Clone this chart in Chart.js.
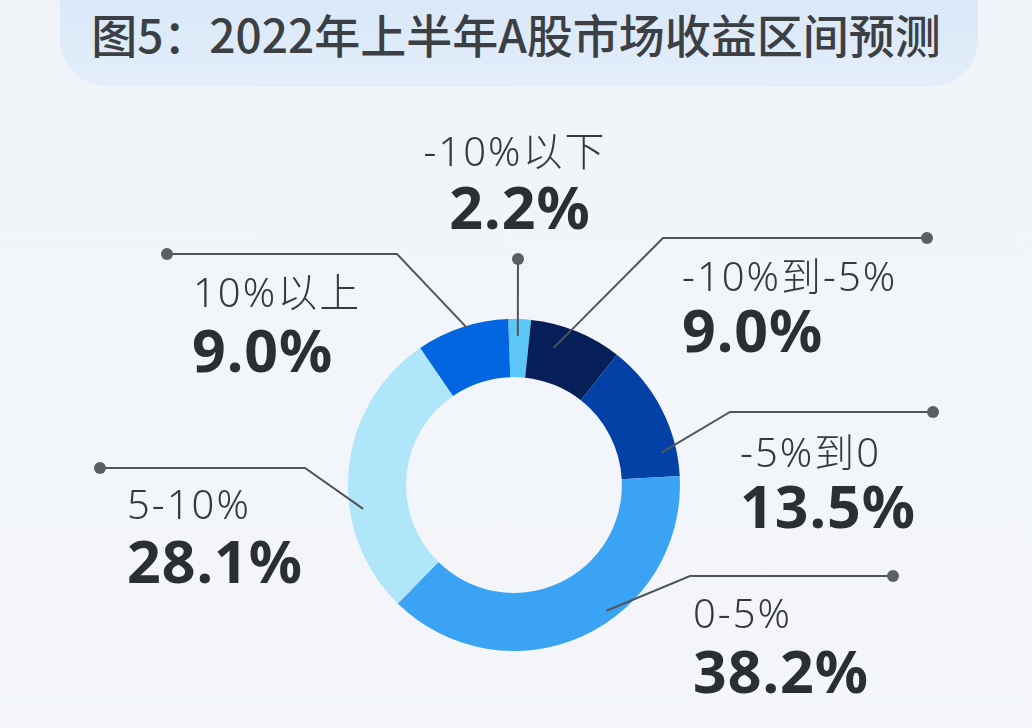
<!DOCTYPE html>
<html>
<head>
<meta charset="utf-8">
<script src="https://cdn.jsdelivr.net/npm/chart.js"></script>
<style>
  body { margin: 0; background: #f2f5f9; }
  .wrap { position: relative; width: 1032px; height: 728px; overflow: hidden;
          background: linear-gradient(#f0f4f9, #f4f6f9); }
  .title-box { position: absolute; left: 60px; top: -50px; width: 918px; height: 136px;
               border-radius: 0 0 46px 46px; background: linear-gradient(#d4e4f6, #e3eefa); }
  .title { position: absolute; left: 0; top: 0; width: 1032px; height: 88px; line-height: 88px;
           text-align: center; font: 500 46px "Noto Sans CJK SC", sans-serif; color: #3c3f43; margin: 0; }
  canvas { position: absolute; left: 0; top: 0; }
</style>
</head>
<body>
<div class="wrap">
  <div class="title-box"></div>
  <h1 class="title">图5：2022年上半年A股市场收益区间预测</h1>
  <canvas id="chart" width="1032" height="728"></canvas>
</div>
<script>
// data
const categories = ['-10%以下', '-10%到-5%', '-5%到0', '0-5%', '5-10%', '10%以上'];
const shares = [2.2, 9.0, 13.5, 38.2, 28.1, 9.0];
const sliceColors = ['#5cc6f7', '#061f58', '#0341a7', '#3aa3f3', '#b0e6fa', '#0266e0'];

// callout placement, offsets from the doughnut centre
// tilt: degrees away from slice middle, depth: fraction of outer radius
const calloutLayout = [
  { tilt: -0.5, depth: 0.90, elbow: null,        dot: [4, -226],   align: 'center', name: [1, -330],   value: [6, -273] },
  { tilt: -6,   depth: 0.86, elbow: [149, -247], dot: [413, -247], align: 'left',   name: [168, -205], value: [168, -150] },
  { tilt: 15,   depth: 0.91, elbow: [216, -73],  dot: [419, -73],  align: 'left',   name: [226, -29],  value: [226, 26] },
  { tilt: -12,  depth: 0.94, elbow: [176, 91],   dot: [379, 91],   align: 'left',   name: [179, 132],  value: [179, 191] },
  { tilt: -14,  depth: 0.92, elbow: [-209, -17], dot: [-414, -17], align: 'left',   name: [-387, 23],  value: [-387, 81] },
  { tilt: 1.5,  depth: 0.99, elbow: [-117, -231],dot: [-347, -231],align: 'left',   name: [-321, -189],value: [-322, -130] }
];

const calloutPlugin = {
  id: 'callouts',
  afterDatasetsDraw(chart) {
    const ctx = chart.ctx;
    const arcs = chart.getDatasetMeta(0).data;
    ctx.save();
    arcs.forEach((arc, i) => {
      const L = calloutLayout[i];
      const p = arc.getProps(['x', 'y', 'startAngle', 'endAngle', 'outerRadius'], true);
      const a = (p.startAngle + p.endAngle) / 2 + L.tilt * Math.PI / 180;
      const r = p.outerRadius * L.depth;
      const sx = p.x + r * Math.cos(a);
      const sy = p.y + r * Math.sin(a);
      const dx = p.x + L.dot[0], dy = p.y + L.dot[1];

      ctx.strokeStyle = '#50555b';
      ctx.lineWidth = 2;
      ctx.beginPath();
      ctx.moveTo(sx, sy);
      if (L.elbow) ctx.lineTo(p.x + L.elbow[0], p.y + L.elbow[1]);
      ctx.lineTo(dx, dy);
      ctx.stroke();

      ctx.fillStyle = '#5b5f64';
      ctx.beginPath();
      ctx.arc(dx, dy, 6, 0, Math.PI * 2);
      ctx.fill();

      ctx.textAlign = L.align;
      ctx.textBaseline = 'middle';
      ctx.fillStyle = '#35383c';
      ctx.letterSpacing = '2px';
      ctx.font = '300 40px "Noto Sans", "Noto Sans CJK SC", sans-serif';
      ctx.fillText(categories[i], p.x + L.name[0], p.y + L.name[1]);
      ctx.letterSpacing = '1px';
      ctx.fillStyle = '#2b2e32';
      ctx.font = '700 59px "Noto Sans", "Noto Sans CJK SC", sans-serif';
      ctx.fillText(shares[i].toFixed(1) + '%', p.x + L.value[0], p.y + L.value[1]);
    });
    ctx.restore();
  }
};

new Chart(document.getElementById('chart'), {
  type: 'doughnut',
  data: {
    labels: categories,
    datasets: [{
      data: shares,
      backgroundColor: sliceColors,
      borderWidth: 0
    }]
  },
  options: {
    responsive: false,
    animation: false,
    rotation: -2,
    cutout: '65%',
    layout: { padding: { top: 319, bottom: 77, left: 348, right: 352 } },
    plugins: {
      legend: { display: false },
      tooltip: { enabled: false }
    }
  },
  plugins: [calloutPlugin]
});
</script>
</body>
</html>
